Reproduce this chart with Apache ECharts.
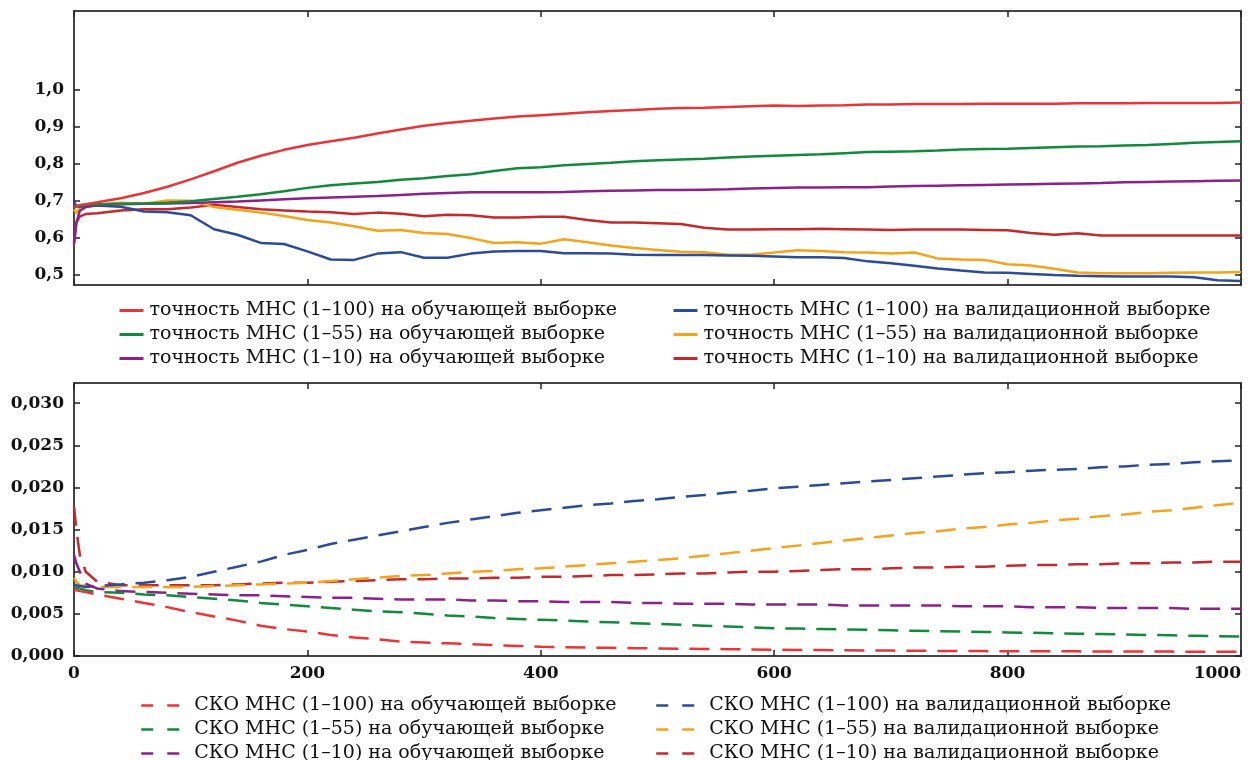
<!DOCTYPE html>
<html>
<head>
<meta charset="utf-8">
<script src="https://cdn.jsdelivr.net/npm/echarts@6/dist/echarts.min.js"></script>
<style>
  html, body { margin: 0; padding: 0; background: #fff; }
  #chart { width: 1256px; height: 760px; }
</style>
</head>
<body>
<div id="chart"></div>
<script>
'use strict';

// iterations (x axis, shared by all curves)
var steps = [0, 2, 5, 10, 20, 40, 60, 80, 100, 120, 140, 160, 180, 200, 220, 240, 260, 280, 300, 320,
  340, 360, 380, 400, 420, 440, 460, 480, 500, 520, 540, 560, 580, 600, 620, 640, 660, 680, 700, 720,
  740, 760, 780, 800, 820, 840, 860, 880, 900, 920, 940, 960, 980, 1000];

// upper panel: accuracy
var accTrain100 = [0.683, 0.685, 0.688, 0.690, 0.695, 0.706, 0.720, 0.737, 0.757, 0.779, 0.802, 0.821, 0.837, 0.850, 0.860, 0.870, 0.881, 0.892, 0.902, 0.910,
  0.916, 0.922, 0.927, 0.931, 0.935, 0.939, 0.942, 0.945, 0.948, 0.950, 0.951, 0.953, 0.955, 0.957, 0.956, 0.957, 0.958, 0.960, 0.960, 0.961,
  0.961, 0.961, 0.962, 0.962, 0.962, 0.962, 0.963, 0.963, 0.963, 0.964, 0.964, 0.964, 0.964, 0.965];
var accTrain55 = [0.680, 0.683, 0.686, 0.688, 0.690, 0.691, 0.692, 0.694, 0.698, 0.704, 0.710, 0.717, 0.725, 0.734, 0.741, 0.746, 0.750, 0.756, 0.760, 0.766,
  0.771, 0.780, 0.787, 0.790, 0.795, 0.799, 0.802, 0.806, 0.809, 0.811, 0.813, 0.816, 0.819, 0.821, 0.823, 0.825, 0.828, 0.831, 0.832, 0.833,
  0.835, 0.838, 0.839, 0.840, 0.842, 0.844, 0.846, 0.847, 0.849, 0.850, 0.853, 0.856, 0.858, 0.860];
var accTrain10 = [0.585, 0.640, 0.672, 0.682, 0.687, 0.690, 0.691, 0.692, 0.693, 0.695, 0.697, 0.700, 0.703, 0.706, 0.708, 0.710, 0.712, 0.715, 0.718, 0.720,
  0.722, 0.722, 0.722, 0.722, 0.723, 0.725, 0.726, 0.727, 0.728, 0.728, 0.729, 0.730, 0.732, 0.734, 0.735, 0.735, 0.736, 0.736, 0.738, 0.739,
  0.740, 0.741, 0.742, 0.743, 0.744, 0.745, 0.746, 0.747, 0.749, 0.750, 0.751, 0.752, 0.753, 0.754];
var accVal100 = [0.697, 0.685, 0.683, 0.684, 0.686, 0.683, 0.670, 0.668, 0.660, 0.622, 0.607, 0.585, 0.582, 0.562, 0.540, 0.539, 0.556, 0.560, 0.545, 0.545,
  0.556, 0.562, 0.563, 0.563, 0.557, 0.557, 0.556, 0.553, 0.552, 0.552, 0.552, 0.551, 0.550, 0.548, 0.546, 0.546, 0.544, 0.535, 0.530, 0.523,
  0.516, 0.510, 0.505, 0.504, 0.501, 0.498, 0.496, 0.495, 0.494, 0.494, 0.494, 0.492, 0.484, 0.482];
var accVal55 = [0.676, 0.666, 0.680, 0.686, 0.688, 0.694, 0.691, 0.700, 0.699, 0.682, 0.675, 0.667, 0.658, 0.647, 0.640, 0.630, 0.618, 0.620, 0.612, 0.609,
  0.598, 0.585, 0.587, 0.583, 0.595, 0.587, 0.578, 0.571, 0.566, 0.561, 0.560, 0.553, 0.553, 0.559, 0.565, 0.563, 0.560, 0.559, 0.556, 0.559,
  0.543, 0.540, 0.539, 0.527, 0.524, 0.515, 0.505, 0.503, 0.503, 0.503, 0.504, 0.505, 0.505, 0.506];
var accVal10 = [0.580, 0.640, 0.657, 0.663, 0.665, 0.673, 0.676, 0.676, 0.681, 0.688, 0.682, 0.676, 0.673, 0.670, 0.668, 0.663, 0.667, 0.664, 0.657, 0.661,
  0.660, 0.654, 0.654, 0.656, 0.656, 0.647, 0.640, 0.640, 0.638, 0.636, 0.626, 0.621, 0.621, 0.622, 0.622, 0.623, 0.622, 0.621, 0.620, 0.621,
  0.621, 0.621, 0.620, 0.619, 0.612, 0.607, 0.611, 0.605, 0.605, 0.605, 0.605, 0.605, 0.605, 0.605];

// lower panel: standard deviation
var sdTrain100 = [0.0079, 0.0078, 0.0077, 0.0076, 0.0073, 0.0068, 0.0063, 0.0058, 0.0052, 0.0047, 0.0042, 0.0036, 0.0032, 0.0029, 0.0025, 0.0022, 0.0020, 0.0017, 0.0016, 0.0015,
  0.0014, 0.0013, 0.0012, 0.0011, 0.00105, 0.0010, 0.00097, 0.00093, 0.0009, 0.00087, 0.00084, 0.00081, 0.00078, 0.00075, 0.00072, 0.0007, 0.00068, 0.00066, 0.00064, 0.00062,
  0.0006, 0.00059, 0.00058, 0.00057, 0.00056, 0.00055, 0.00055, 0.00054, 0.00053, 0.00052, 0.00052, 0.00051, 0.00051, 0.0005];
var sdTrain55 = [0.0082, 0.0081, 0.0080, 0.0078, 0.0076, 0.0075, 0.0073, 0.0072, 0.0070, 0.0068, 0.0066, 0.0063, 0.0061, 0.0059, 0.0057, 0.0055, 0.0053, 0.0052, 0.0050, 0.0048,
  0.0047, 0.0045, 0.0044, 0.0043, 0.0042, 0.0041, 0.0040, 0.0039, 0.0038, 0.0037, 0.0036, 0.0035, 0.0034, 0.0033, 0.00325, 0.0032, 0.00315, 0.0031, 0.00305, 0.0030,
  0.00295, 0.0029, 0.00285, 0.0028, 0.00275, 0.0027, 0.00265, 0.0026, 0.00255, 0.0025, 0.00245, 0.0024, 0.00235, 0.0023];
var sdTrain10 = [0.0120, 0.0110, 0.0100, 0.0086, 0.0080, 0.0077, 0.0076, 0.0075, 0.0074, 0.0073, 0.0072, 0.0072, 0.0071, 0.0070, 0.0069, 0.0069, 0.0068, 0.0067, 0.0067, 0.0067,
  0.0066, 0.0066, 0.0065, 0.0065, 0.0064, 0.0064, 0.0064, 0.0063, 0.0063, 0.0062, 0.0062, 0.0062, 0.0061, 0.0061, 0.0061, 0.0061, 0.0060, 0.0060, 0.0060, 0.0060,
  0.0060, 0.0059, 0.0059, 0.0059, 0.0058, 0.0058, 0.0058, 0.0057, 0.0057, 0.0057, 0.0057, 0.0056, 0.0056, 0.0056];
var sdVal100 = [0.0085, 0.0084, 0.0083, 0.0082, 0.0083, 0.0085, 0.0087, 0.0090, 0.0094, 0.0100, 0.0106, 0.0112, 0.0120, 0.0126, 0.0133, 0.0138, 0.0143, 0.0148, 0.0153, 0.0158,
  0.0162, 0.0166, 0.0170, 0.0173, 0.0176, 0.0179, 0.0181, 0.0184, 0.0186, 0.0189, 0.0191, 0.0194, 0.0196, 0.0199, 0.0201, 0.0203, 0.0205, 0.0207, 0.0209, 0.0211,
  0.0213, 0.0215, 0.0217, 0.0218, 0.0220, 0.0221, 0.0222, 0.0224, 0.0225, 0.0227, 0.0228, 0.0230, 0.0231, 0.0232];
var sdVal55 = [0.0093, 0.0088, 0.0084, 0.0083, 0.0082, 0.0082, 0.0082, 0.0082, 0.0082, 0.0083, 0.0084, 0.0085, 0.0086, 0.0087, 0.0089, 0.0091, 0.0093, 0.0095, 0.0096, 0.0098,
  0.0100, 0.0101, 0.0103, 0.0104, 0.0106, 0.0108, 0.0110, 0.0112, 0.0114, 0.0116, 0.0119, 0.0122, 0.0125, 0.0128, 0.0131, 0.0134, 0.0137, 0.0140, 0.0143, 0.0146,
  0.0148, 0.0151, 0.0153, 0.0156, 0.0158, 0.0161, 0.0163, 0.0166, 0.0168, 0.0171, 0.0173, 0.0176, 0.0179, 0.0182];
var sdVal10 = [0.0178, 0.0150, 0.0120, 0.0100, 0.0088, 0.0084, 0.0084, 0.0084, 0.0084, 0.0084, 0.0085, 0.0086, 0.0087, 0.0087, 0.0088, 0.0089, 0.0090, 0.0091, 0.0091, 0.0092,
  0.0092, 0.0093, 0.0093, 0.0094, 0.0094, 0.0095, 0.0096, 0.0096, 0.0097, 0.0098, 0.0098, 0.0099, 0.0100, 0.0100, 0.0101, 0.0102, 0.0103, 0.0103, 0.0104, 0.0105,
  0.0105, 0.0106, 0.0106, 0.0107, 0.0108, 0.0108, 0.0109, 0.0109, 0.0110, 0.0110, 0.0111, 0.0111, 0.0112, 0.0112];

// tick labels
var accTicks = [0.5, 0.6, 0.7, 0.8, 0.9, 1.0];
var sdTicks = [0, 0.005, 0.01, 0.015, 0.02, 0.025, 0.03];

var accNames = [
  'точность МНС (1–100) на обучающей выборке',
  'точность МНС (1–55) на обучающей выборке',
  'точность МНС (1–10) на обучающей выборке',
  'точность МНС (1–100) на валидационной выборке',
  'точность МНС (1–55) на валидационной выборке',
  'точность МНС (1–10) на валидационной выборке'
];
var sdNames = [
  'СКО МНС (1–100) на обучающей выборке',
  'СКО МНС (1–55) на обучающей выборке',
  'СКО МНС (1–10) на обучающей выборке',
  'СКО МНС (1–100) на валидационной выборке',
  'СКО МНС (1–55) на валидационной выборке',
  'СКО МНС (1–10) на валидационной выборке'
];

var colors = ['#ea3438', '#128a3e', '#8c2289', '#2d4b9b', '#f7a21b', '#c4292e'];
var SERIF = '"DejaVu Serif", "Liberation Serif", serif';
var FRAME = '#444';

function pairs(ys) {
  return steps.map(function (x, i) { return [x, ys[i]]; });
}

function xAx(grid, pos, labels) {
  return {
    type: 'value', gridIndex: grid, position: pos, min: 0, max: 1000, interval: 200,
    axisLine: { show: true, onZero: false, lineStyle: { color: FRAME, width: 2 } },
    axisTick: { show: true, inside: true, length: 6, lineStyle: { color: '#222', width: 1.5 } },
    axisLabel: {
      show: labels, color: '#111', fontFamily: SERIF, fontWeight: 'bold', fontSize: 17,
      margin: 9, alignMaxLabel: 'right',
      formatter: function (v) { return String(v); }
    },
    splitLine: { show: false }
  };
}

function yAx(grid, pos, min, max, ticks, digits, labels) {
  return {
    type: 'value', gridIndex: grid, position: pos, min: min, max: max,
    axisLine: { show: true, onZero: false, lineStyle: { color: FRAME, width: 2 } },
    axisTick: { show: true, inside: true, length: 6, customValues: ticks, lineStyle: { color: '#222', width: 1.5 } },
    axisLabel: {
      show: labels, customValues: ticks, color: '#111', fontFamily: SERIF, fontWeight: 'bold', fontSize: 17,
      margin: 10,
      formatter: function (v) { return v.toFixed(digits).replace('.', ','); }
    },
    splitLine: { show: false }
  };
}

var series = [];
[accTrain100, accTrain55, accTrain10, accVal100, accVal55, accVal10].forEach(function (ys, i) {
  series.push({
    name: accNames[i], type: 'line', xAxisIndex: 0, yAxisIndex: 0,
    data: pairs(ys), symbol: 'none', color: colors[i],
    lineStyle: { width: 2.5, color: colors[i] }, z: 10 - i
  });
});
[sdTrain100, sdTrain55, sdTrain10, sdVal100, sdVal55, sdVal10].forEach(function (ys, i) {
  series.push({
    name: sdNames[i], type: 'line', xAxisIndex: 2, yAxisIndex: 2,
    data: pairs(ys), symbol: 'none', color: colors[i],
    lineStyle: { width: 2.5, color: colors[i], type: [20, 11] }, z: 10 - i
  });
});

function legend(left, top, names, dashed) {
  return {
    left: left, top: top, orient: 'vertical', data: names,
    width: 600, height: 90, padding: 0,
    itemWidth: dashed ? 38 : 24, itemHeight: 12, itemGap: 5,
    itemStyle: { opacity: 0 },
    lineStyle: dashed ? { type: [12, 14], width: 2.5 } : { width: 3 },
    textStyle: {
      fontFamily: SERIF, fontSize: 19, lineHeight: 18, color: '#111',
      padding: dashed ? [0, 0, 0, 10] : [0, 0, 0, 1]
    }
  };
}

var option = {
  animation: false,
  backgroundColor: '#fff',
  grid: [
    { left: 74, right: 15, top: 11, height: 274 },
    { left: 74, right: 15, top: 383, height: 273 }
  ],
  xAxis: [xAx(0, 'bottom', false), xAx(0, 'top', false), xAx(1, 'bottom', true), xAx(1, 'top', false)],
  yAxis: [
    yAx(0, 'left', 0.471, 1.213, accTicks, 1, true),
    yAx(0, 'right', 0.471, 1.213, accTicks, 1, false),
    yAx(1, 'left', 0, 0.0324, sdTicks, 3, true),
    yAx(1, 'right', 0, 0.0324, sdTicks, 3, false)
  ],
  legend: [
    legend(118, 301, accNames.slice(0, 3), false),
    legend(672, 301, accNames.slice(3), false),
    legend(140, 696, sdNames.slice(0, 3), true),
    legend(655, 696, sdNames.slice(3), true)
  ],
  series: series
};

var myChart = echarts.init(document.getElementById('chart'));
myChart.setOption(option);
</script>
</body>
</html>
